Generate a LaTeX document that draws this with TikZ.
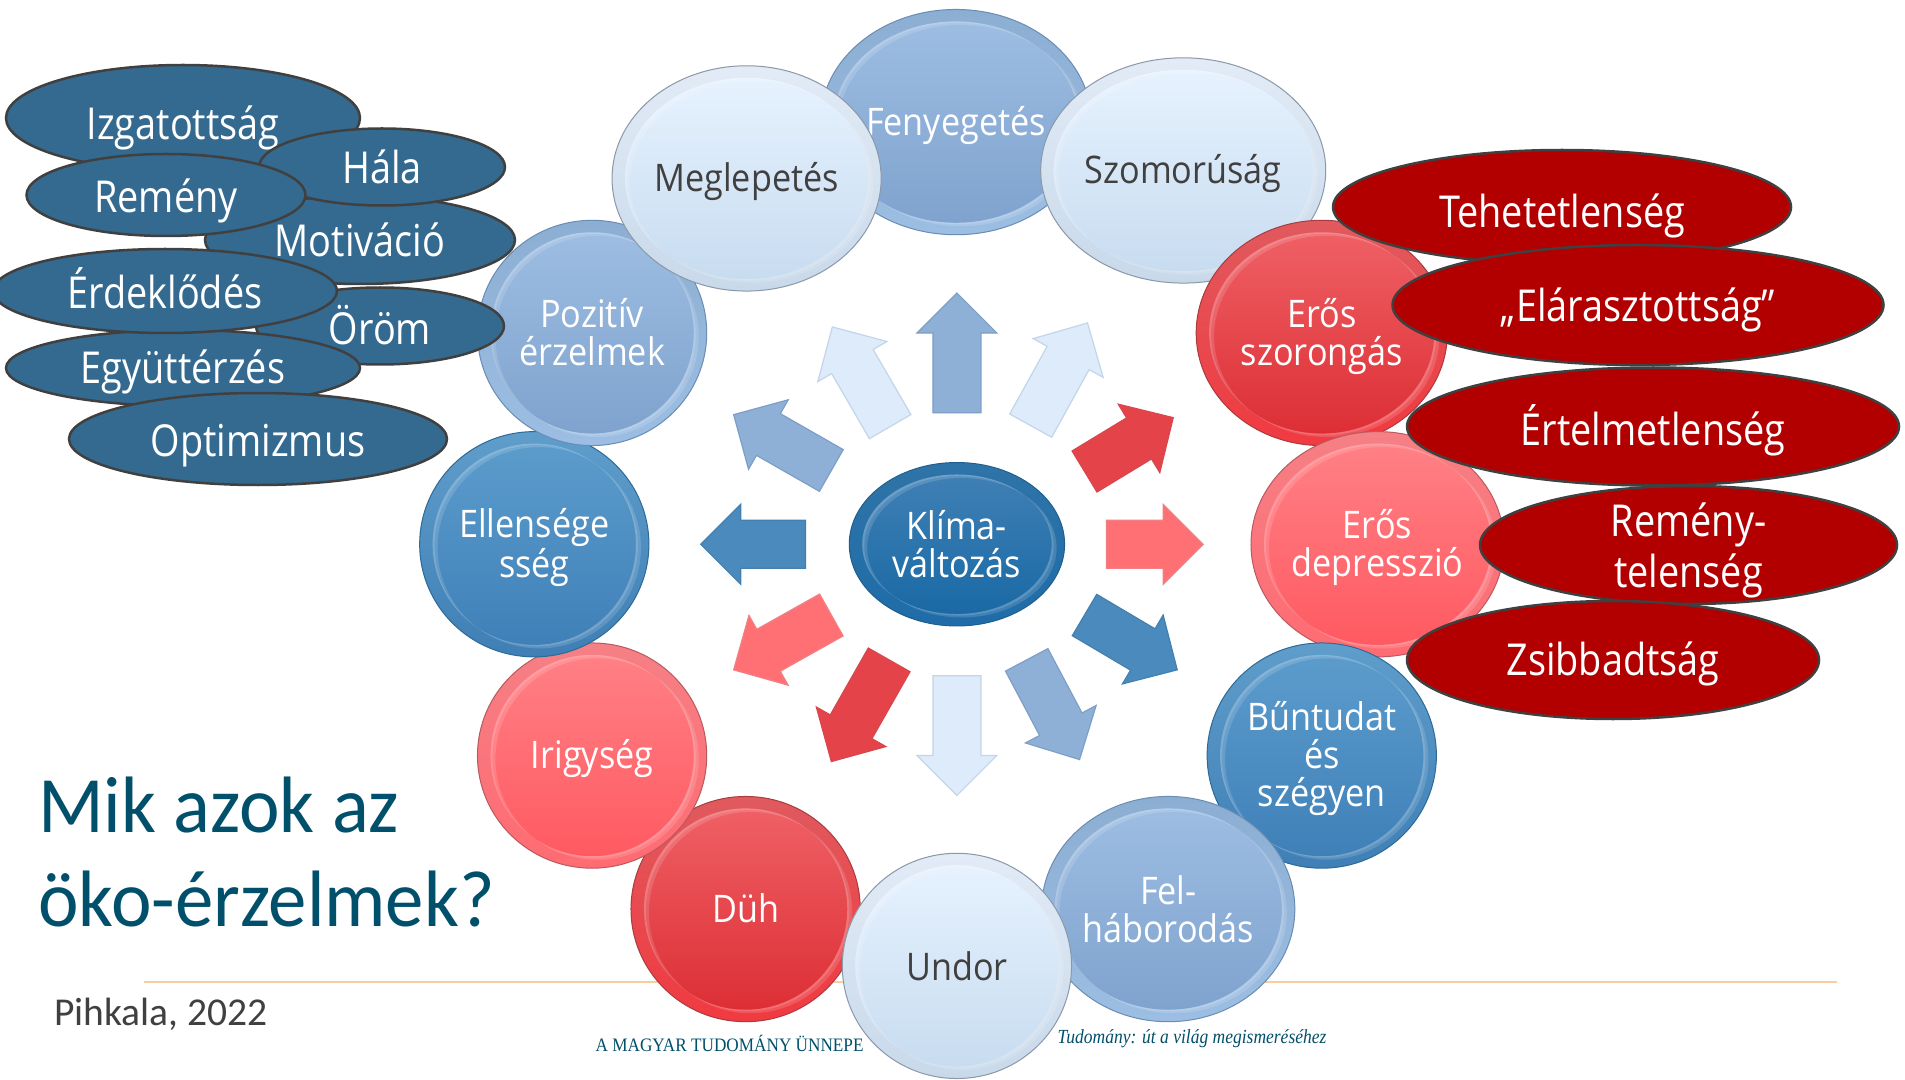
\documentclass[tikz,border=0pt]{standalone}
\usepackage{fontspec}
\usetikzlibrary{shapes.geometric,calc}
\setmainfont{Carlito}
\newfontfamily\titlefont[FakeStretch=0.96]{Carlito}
\newfontfamily\cfont[FakeStretch=0.90]{Open Sans}
\newfontfamily\ofont[FakeStretch=0.86]{Open Sans}
\newfontfamily\sfont[FakeStretch=0.905]{Liberation Serif}
\newfontfamily\sifont[FakeStretch=0.875,UprightFont=*,ItalicFont=* Italic]{Liberation Serif}
\definecolor{titlecol}{HTML}{004F6B}
\definecolor{greytxt}{HTML}{404040}
\definecolor{blueov}{HTML}{356A90}
\definecolor{redov}{HTML}{B20000}
\definecolor{ruleor}{HTML}{F6CFA0}
\definecolor{midb}{HTML}{8FB0D6}\definecolor{midbd}{HTML}{7D9EC6}
\definecolor{lightb}{HTML}{DDEBFB}\definecolor{lightbd}{HTML}{C3D5E9}
\definecolor{redA}{HTML}{E5434A}\definecolor{redAd}{HTML}{D8474D}
\definecolor{salm}{HTML}{FF7075}\definecolor{salmd}{HTML}{F27F83}
\definecolor{bluA}{HTML}{4A8ABD}\definecolor{bluAd}{HTML}{4480AF}
\definecolor{rO1}{HTML}{E05A5E}\definecolor{rO2}{HTML}{F03A40}\definecolor{rOd}{HTML}{A83C40}
\definecolor{rI1}{HTML}{EF6065}\definecolor{rI2}{HTML}{DC2F35}
\definecolor{sO1}{HTML}{F58085}\definecolor{sO2}{HTML}{FF6B72}\definecolor{sOd}{HTML}{B85A60}
\definecolor{sI1}{HTML}{FF8085}\definecolor{sI2}{HTML}{FF5A62}
\definecolor{bO1}{HTML}{5F9DCB}\definecolor{bO2}{HTML}{3F7FB5}\definecolor{bOd}{HTML}{2E6A96}
\definecolor{bI1}{HTML}{5C9CCC}\definecolor{bI2}{HTML}{3F80B8}
\definecolor{mO1}{HTML}{8DAED3}\definecolor{mO2}{HTML}{9CBEE3}\definecolor{mOd}{HTML}{6A8CB5}
\definecolor{mI1}{HTML}{9DBDE2}\definecolor{mI2}{HTML}{7FA3CE}
\definecolor{lO1}{HTML}{E2EBF6}\definecolor{lO2}{HTML}{C8D9EA}\definecolor{lOd}{HTML}{8A98A8}
\definecolor{lI1}{HTML}{E6F2FE}\definecolor{lI2}{HTML}{C8DCF0}
\definecolor{kO1}{HTML}{2F74A8}\definecolor{kO2}{HTML}{1F6CA8}\definecolor{kOd}{HTML}{1F5F8E}
\definecolor{kI1}{HTML}{3F80B5}\definecolor{kIm}{HTML}{1B75B8}\definecolor{kI2}{HTML}{1A69A5}
\tikzset{
  x=0.5pt,y=-0.5pt,
  ovalbase/.style={ellipse,draw=greytxt,line width=1.25pt,inner sep=0pt,outer sep=0pt},
  blueoval/.style={ovalbase,fill=blueov},
  redoval/.style={ovalbase,fill=redov},
  ovaltext/.style={inner sep=0pt,text=white,align=center,font=\ofont\fontsize{22}{25.5}\selectfont},
  btntext/.style={align=center,inner sep=0pt,font=\cfont\fontsize{19}{19}\selectfont},
  arrowshape/.style={line width=0.6pt,line join=miter},
  redOuter/.style={top color=rO1,bottom color=rO2,draw=rOd,line width=0.5pt},
  redInner/.style={top color=rI1,bottom color=rI2},
  salOuter/.style={top color=sO1,bottom color=sO2,draw=sOd,line width=0.5pt},
  salInner/.style={top color=sI1,bottom color=sI2},
  bluOuter/.style={top color=bO1,bottom color=bO2,draw=bOd,line width=0.5pt},
  bluInner/.style={top color=bI1,bottom color=bI2},
  midOuter/.style={top color=mO1,bottom color=mO2,draw=mOd,line width=0.5pt},
  midInner/.style={top color=mI1,bottom color=mI2},
  ligOuter/.style={top color=lO1,bottom color=lO2,draw=lOd,line width=0.5pt},
  ligInner/.style={top color=lI1,bottom color=lI2},
  kliOuter/.style={top color=kO1,bottom color=kO2,draw=kOd,line width=0.5pt},
  kliInner/.style={top color=kI1,middle color=kIm,bottom color=kI2},
}
% glossy button: name, x, y, rx, ry, family, text colour, text offset, text
\newcommand\btnshape[9]{%
  \path[shade,#6Outer] (#2,#3) ellipse [x radius=#4,y radius=#5];
  \path[shade,#6Inner] (#2,#3) ellipse [x radius=#4-13,y radius=#5-12];
  \fill[white,opacity=.14,even odd rule] (#2,#3) ellipse [x radius=#4-13,y radius=#5-12]
     (#2+2,#3+1.5) ellipse [x radius=#4-13,y radius=#5-12];
  \fill[white,opacity=.14,even odd rule] (#2,#3) ellipse [x radius=#4-13,y radius=#5-12]
     (#2+5,#3+3.5) ellipse [x radius=#4-13,y radius=#5-12];
  \node[btntext,text=#7] (#1) at (#2,#3+#8) {#9};
}
% oval: name, x, y, rx, ry, style, text offset, text
\newcommand\ovshape[8]{%
  \node[#6,minimum width=#4pt,minimum height=#5pt] (#1) at (#2,#3) {};
  \node[ovaltext] (#1t) at (#2,#3+#7) {#8};
}
% arrow: id, base, tip, fill, draw
\newcommand\arw[5]{%
  \coordinate (b#1) at (#2);
  \coordinate (t#1) at (#3);
  \coordinate (h#1) at ($(t#1)!20pt!(b#1)$);
  \filldraw[arrowshape,fill=#4,draw=#5]
    ($(b#1)!12pt!90:(t#1)$) -- ($(h#1)!12pt!-90:(b#1)$) -- ($(h#1)!20pt!-90:(b#1)$) -- (t#1)
    -- ($(h#1)!20pt!90:(b#1)$) -- ($(h#1)!12pt!90:(b#1)$) -- ($(b#1)!12pt!-90:(t#1)$) -- cycle;
}
\begin{document}
\begin{tikzpicture}
\useasboundingbox (0,0) rectangle (1905,1080);
\fill[white] (0,0) rectangle (1905,1080);
\begin{scope}[x=0.4984pt,y=-0.4984pt]
\coordinate (ruleL) at (144,985);
\coordinate (ruleR) at (1843,985);
\draw[ruleor,line width=1pt] (ruleL) -- (ruleR);

\node[anchor=base west,inner sep=0pt,text=titlecol,font=\titlefont\fontsize{40}{47}\selectfont] (titleA) at (38,835) {Mik azok az};
\node[anchor=base west,inner sep=0pt,text=titlecol,font=\titlefont\fontsize{40}{47}\selectfont] (titleB) at (38,929) {öko-érzelmek?};
\node[anchor=base west,inner sep=0pt,text=greytxt,font=\fontsize{19.75}{24}\selectfont] (author) at (54,1029) {Pihkala, 2022};

% arrows
\arw{a}{960,414}{960,294}{midb}{midbd}
\arw{b}{1034,427}{1091,324}{lightb}{lightbd}
\arw{c}{1088,473}{1177,419}{redA}{redAd}
\arw{d}{1110,546}{1207,546}{salm}{salmd}
\arw{e}{1088,617}{1181,672}{bluA}{bluAd}
\arw{f}{1030,662}{1083,762}{midb}{midbd}
\arw{g}{960,678}{960,798}{lightb}{lightbd}
\arw{h}{892,662}{834,764}{redA}{redAd}
\arw{i}{834,617}{736,672}{salm}{salmd}
\arw{j}{808,546}{703,546}{bluA}{bluAd}
\arw{k}{834,472}{736,416}{midb}{midbd}
\arw{l}{893,428}{835,328}{lightb}{lightbd}

% ring of buttons, stacking order as in the figure
\btnshape{fenyeg}{959}{122.5}{136}{113}{mid}{white}{3.5}{Fenyegetés}
\btnshape{szomor}{1187}{171}{143}{113}{lig}{greytxt}{3.5}{Szomorúság}
\btnshape{szorong}{1326}{334}{126}{113}{red}{white}{4}{Erős\\szorongás}
\btnshape{depr}{1382}{546}{127}{113}{sal}{white}{3}{Erős\\depresszió}
\btnshape{buntud}{1326}{758}{115}{113}{blu}{white}{3}{Bűntudat\\és\\szégyen}
\btnshape{felhab}{1172}{912}{127}{113}{mid}{white}{0}{Fel-\\háborodás}
\btnshape{duh}{748}{912}{115}{113}{red}{white}{-1}{Düh}
\btnshape{undor}{960}{969}{115}{113}{lig}{greytxt}{0}{Undor}
\btnshape{irigy}{594}{758}{115}{113}{sal}{white}{2.5}{Irigység}
\btnshape{ellen}{536}{546}{115}{113}{blu}{white}{3}{Ellensége\\sség}
\btnshape{pozit}{594}{334}{115}{113}{mid}{white}{-1}{Pozitív\\érzelmek}
\btnshape{megl}{749}{179}{135}{113}{lig}{greytxt}{3.5}{Meglepetés}
\btnshape{klima}{960}{546}{108}{82}{kli}{white}{0}{Klíma-\\változás}
\end{scope}

\node[inner sep=0pt,text=titlecol,font=\sfont\fontsize{9.5}{11}\selectfont] (unnep) at (729.6,1043.6) {A MAGYAR TUDOMÁNY ÜNNEPE};
\node[inner sep=0pt,text=titlecol,font=\sifont\itshape\fontsize{10}{11}\selectfont] (motto) at (1192,1038.7) {Tudomány: út a világ megismeréséhez};

% blue ovals
\ovshape{izgat}{183}{118}{177}{53}{blueoval}{10}{Izgatottság}
\ovshape{motiv}{360}{240}{155}{44}{blueoval}{0}{Motiváció}
\ovshape{hala}{382}{167}{123}{38.5}{blueoval}{0}{Hála}
\ovshape{orom}{380}{326}{124}{38.5}{blueoval}{-1}{Öröm}
\ovshape{remeny}{166}{195}{139.5}{41}{blueoval}{6}{Remény}
\ovshape{egyutt}{183}{368}{177}{38}{blueoval}{4}{Együttérzés}
\ovshape{erdekl}{165}{291}{172}{42}{blueoval}{-3}{Érdeklődés}
\ovshape{optim}{258}{439}{189}{46}{blueoval}{7}{Optimizmus}

% red ovals
\ovshape{tehet}{1562}{207}{229}{57}{redoval}{8.5}{Tehetetlenség}
\ovshape{elar}{1638}{305}{245.5}{60}{redoval}{5}{„Elárasztottság”}
\ovshape{ertelm}{1653}{426.5}{246}{59}{redoval}{4}{Értelmetlenség}
\ovshape{remtel}{1688.5}{545}{208.5}{59}{redoval}{5.5}{Remény-\\telenség}
\ovshape{zsibb}{1613}{660}{206}{59}{redoval}{4}{Zsibbadtság}
\end{tikzpicture}
\end{document}
